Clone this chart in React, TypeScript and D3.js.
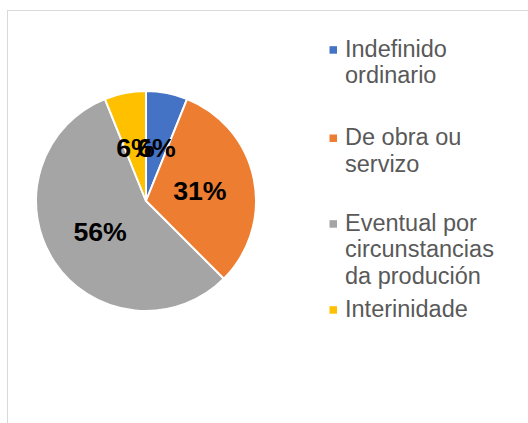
import React from "react";
import * as d3 from "d3";

const categories = ["Indefinido ordinario", "De obra ou servizo", "Eventual por circunstancias da produción", "Interinidade"];
const legendLines = [["Indefinido", "ordinario"], ["De obra ou", "servizo"], ["Eventual por", "circunstancias", "da produción"], ["Interinidade"]];
const values = [6.1, 31.4, 56.4, 6.1];
const colors = ["#4472C4", "#ED7D31", "#A5A5A5", "#FFC000"];

const W = 528, H = 423;
const cx = 146, cy = 201, R = 110;
const legendBaselines = [56.7, 145, 230.7, 316.7];
const lineH = 26.7;

export default function App() {
  const total = d3.sum(values);
  const pie = d3.pie<number>().sort(null).value((d) => d)(values);
  const arc = d3.arc<d3.PieArcDatum<number>>().innerRadius(0).outerRadius(R);
  const labelArc = d3.arc<d3.PieArcDatum<number>>().innerRadius(R * 0.5).outerRadius(R * 0.5);
  const fmt = d3.format(".0%");
  return (
    <svg width={W} height={H} style={{ position: "absolute", left: 0, top: 0 }} fontFamily="'Liberation Sans', Arial, sans-serif">
      <rect x={0} y={0} width={W} height={H} fill="#fff" />
      <rect x={7.5} y={10.5} width={W + 20} height={H + 20} fill="none" stroke="#d9d9d9" strokeWidth={1} />
      <g transform={`translate(${cx},${cy})`}>
        {pie.map((p, i) => (
          <path key={i} d={arc(p) || ""} fill={colors[i]} stroke="#fff" strokeWidth={2} strokeLinejoin="round" />
        ))}
        {pie.map((p, i) => {
          const [x, y] = labelArc.centroid(p);
          return (
            <text key={"l" + i} x={x} y={y} dy="0.36em" textAnchor="middle" fontWeight="bold" fontSize={26.7} fill="#000">
              {fmt(p.data / total)}
            </text>
          );
        })}
      </g>
      {categories.map((c, i) => (
        <g key={c}>
          <rect x={329.5} y={legendBaselines[i] - 10.5} width={7.5} height={7.5} fill={colors[i]} />
          <text x={345} y={legendBaselines[i]} fontSize={23.5} fill="#595959">
            {legendLines[i].map((ln, j) => (
              <tspan key={j} x={345} y={legendBaselines[i] + j * lineH}>{ln}</tspan>
            ))}
          </text>
        </g>
      ))}
    </svg>
  );
}
